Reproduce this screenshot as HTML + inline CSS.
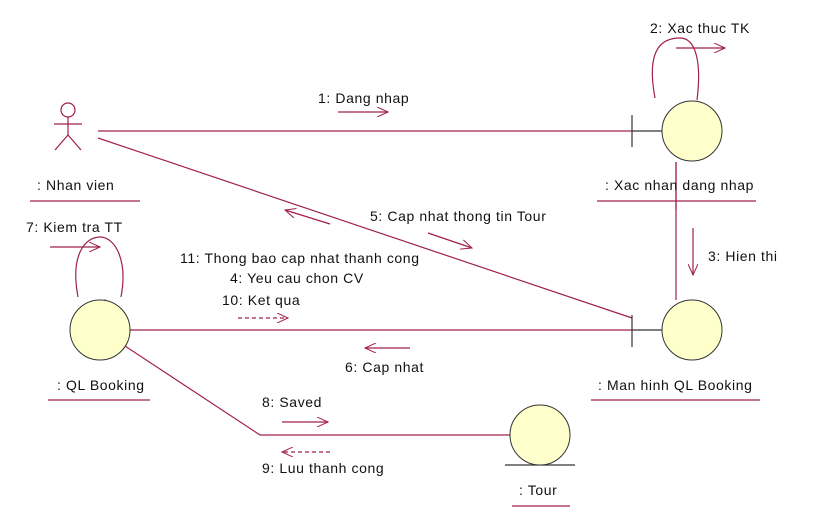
<!DOCTYPE html><html><head><meta charset="utf-8"><style>body{margin:0;background:#fff}svg{display:block}text{font-family:"Liberation Sans",sans-serif;font-size:14px;letter-spacing:0.6px;fill:#111}</style></head><body>
<svg width="819" height="529" viewBox="0 0 819 529">
<defs><marker id="a" markerWidth="12" markerHeight="10" refX="11" refY="5" orient="auto" markerUnits="userSpaceOnUse"><path d="M0,0 L11,5 L0,10" fill="none" stroke="#a0204a" stroke-width="1"/></marker></defs>
<g stroke="#a0204a" stroke-width="1.2" fill="none">
<line x1="98" y1="131" x2="632" y2="131"/>
<line x1="98" y1="138" x2="632" y2="318"/>
<line x1="130" y1="330" x2="632" y2="330"/>
<line x1="676" y1="162" x2="676" y2="300"/>
<polyline points="125,346 260,435 510,435"/>
<path d="M655,98 C645,45 665,38 680,38 C695,38 702,60 697,100"/>
<path d="M78,297 C70,255 85,237 100,237 C115,237 128,260 121,297"/>
<line x1="30" y1="201" x2="140" y2="201"/>
<line x1="597" y1="201" x2="756" y2="201"/>
<line x1="48" y1="400" x2="150" y2="400"/>
<line x1="591" y1="400" x2="760" y2="400"/>
<line x1="512" y1="506" x2="570" y2="506"/>
<g marker-end="url(#a)">
<line x1="676" y1="48" x2="725" y2="48"/>
<line x1="50" y1="247" x2="100" y2="247"/>
<line x1="338" y1="112" x2="388" y2="112"/>
<line x1="693" y1="228" x2="693" y2="275"/>
<line x1="330" y1="224" x2="285" y2="210"/>
<line x1="428" y1="233" x2="472" y2="248"/>
<line x1="238" y1="318" x2="288" y2="318" stroke-dasharray="4,3"/>
<line x1="410" y1="348" x2="365" y2="348"/>
<line x1="282" y1="422" x2="328" y2="422"/>
<line x1="330" y1="452" x2="282" y2="452" stroke-dasharray="4,3"/>
</g></g>
<g stroke="#333" stroke-width="1.2" fill="none">
<line x1="632" y1="115" x2="632" y2="147"/><line x1="632" y1="131" x2="662" y2="131"/>
<line x1="632" y1="315" x2="632" y2="347"/><line x1="632" y1="330" x2="662" y2="330"/>
<line x1="505" y1="465" x2="575" y2="465"/>
<path d="M106,300 L96,303 L104,307"/>
</g>
<g stroke="#333" stroke-width="1" fill="#ffffcc">
<circle cx="692" cy="131" r="30"/><circle cx="692" cy="330" r="30"/><circle cx="100" cy="330" r="30"/><circle cx="540" cy="435" r="30"/>
</g>
<g stroke="#a0204a" stroke-width="1.2" fill="none">
<line x1="676" y1="162" x2="676" y2="210"/>
<circle cx="68" cy="110" r="7"/><line x1="68" y1="117" x2="68" y2="135"/><line x1="54" y1="124" x2="82" y2="124"/><line x1="68" y1="135" x2="55" y2="150"/><line x1="68" y1="135" x2="81" y2="150"/>
</g>
<text x="650" y="33">2: Xac thuc TK</text>
<text x="318" y="103">1: Dang nhap</text>
<text x="605" y="190">: Xac nhan dang nhap</text>
<text x="37" y="190">: Nhan vien</text>
<text x="370" y="221">5: Cap nhat thong tin Tour</text>
<text x="26" y="232">7: Kiem tra TT</text>
<text x="708" y="261">3: Hien thi</text>
<text x="180" y="263">11: Thong bao cap nhat thanh cong</text>
<text x="230" y="283">4: Yeu cau chon CV</text>
<text x="222" y="305">10: Ket qua</text>
<text x="345" y="372">6: Cap nhat</text>
<text x="57" y="390">: QL Booking</text>
<text x="598" y="390">: Man hinh QL Booking</text>
<text x="262" y="407">8: Saved</text>
<text x="262" y="473">9: Luu thanh cong</text>
<text x="519" y="495">: Tour</text>
</svg></body></html>
